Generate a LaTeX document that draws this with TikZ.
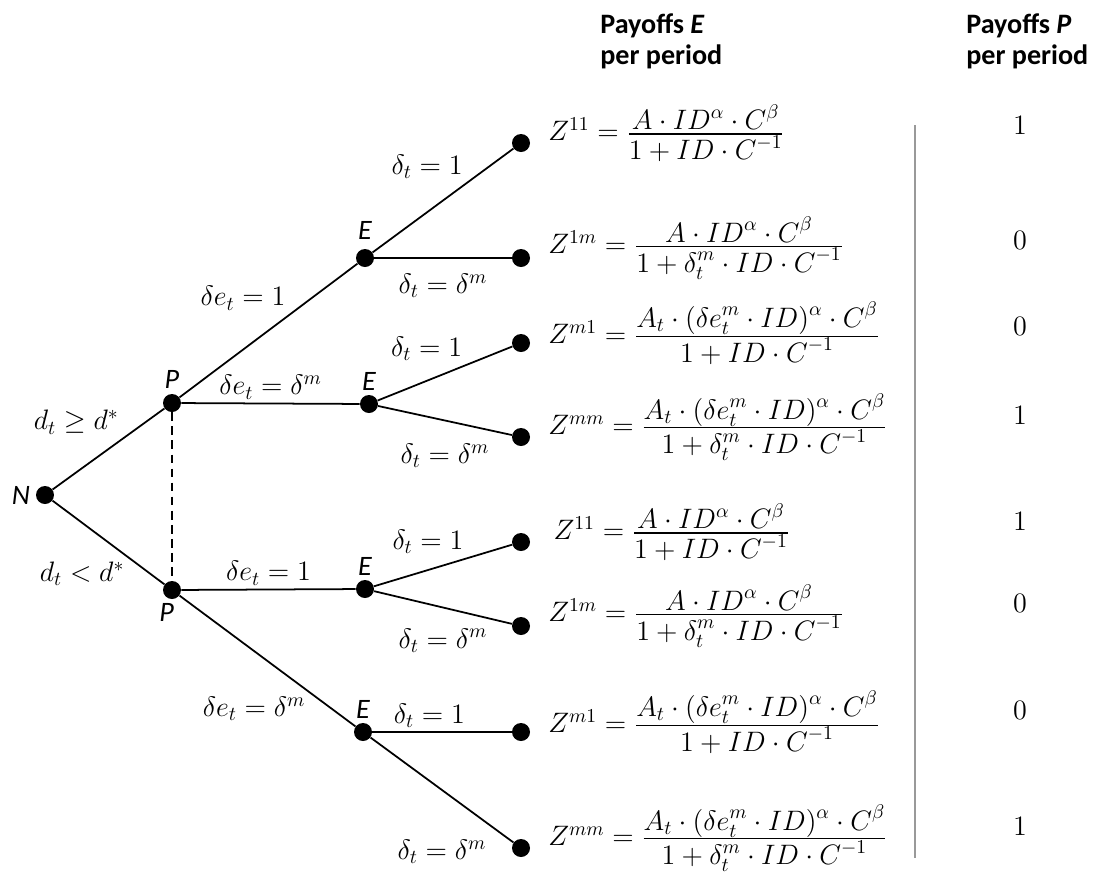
\RequirePackage{fix-cm}
\documentclass[tikz,border=0pt]{standalone}
\usepackage{amsmath,amssymb}
\usepackage[no-math]{fontspec}
\setmainfont{Carlito}
\usetikzlibrary{positioning}

\newcommand{\treesize}{\fontsize{16}{17.6}\selectfont}
\newcommand{\wfrac}[2]{\frac{\displaystyle #1}{\displaystyle #2}}

\begin{document}
\begin{tikzpicture}[
    x=0.02cm, y=-0.02cm,
    dot/.style={circle, fill=black, inner sep=0pt, minimum size=0.36cm},
    who/.style={font=\treesize\itshape, inner sep=2pt},
    lab/.style={font=\treesize, inner sep=2pt},
    pay/.style={font=\treesize, inner sep=2pt, anchor=west, yshift=5.5pt},
    head/.style={font=\treesize\bfseries, align=left, inner sep=0pt},
    line/.style={line width=1pt},
    infoset/.style={line width=0.8pt, dash pattern=on 5pt off 3pt}
  ]
  \useasboundingbox (0,0) rectangle (1096,873);

  % decision nodes
  \node [dot] (n) at (45,495) {};
  \node [dot] (p1) at (172,403) {};
  \node [dot] (p2) at (172,590) {};
  \node [dot] (e1) at (365,258) {};
  \node [dot] (e2) at (369,404) {};
  \node [dot] (e3) at (365,589) {};
  \node [dot] (e4) at (363,732) {};

  % end nodes
  \node [dot] (z1) at (521,143) {};
  \node [dot] (z2) at (521,258) {};
  \node [dot] (z3) at (521,343) {};
  \node [dot] (z4) at (521,437) {};
  \node [dot] (z5) at (521,542) {};
  \node [dot] (z6) at (521,626) {};
  \node [dot] (z7) at (521,732) {};
  \node [dot] (z8) at (521,848) {};

  % players
  \node [who, left=1pt of n] (wn) {N};
  \node [who, above=1pt of p1] (wp1) {P};
  \node [who, below=0pt of p2, xshift=-3pt] (wp2) {P};
  \node [who, above=3pt of e1] (we1) {E};
  \node [who, above=0pt of e2] (we2) {E};
  \node [who, above=0pt of e3] (we3) {E};
  \node [who, above=0pt of e4] (we4) {E};

  % branches
  \draw[line] (n) -- (p1) node[lab, pos=0.63, anchor=south east] {$d_t \geq d^*$};
  \draw[line] (n) -- (p2) node[lab, pos=0.68, anchor=north east] {$d_t < d^*$};
  \draw[infoset] (p1) -- (p2);
  \draw[line] (p1) -- (e1) node[lab, pos=0.62, anchor=south east] {$\delta e_t = 1$};
  \draw[line] (p1) -- (e2) node[lab, midway, above] {$\delta e_t = \delta^m$};
  \draw[line] (p2) -- (e3) node[lab, midway, above] {$\delta e_t = 1$};
  \draw[line] (p2) -- (e4) node[lab, pos=0.74, anchor=north east] {$\delta e_t = \delta^m$};
  \draw[line] (e1) -- (z1) node[lab, pos=0.67, anchor=south east] {$\delta_t = 1$};
  \draw[line] (e1) -- (z2) node[lab, midway, below=6.5pt] {$\delta_t = \delta^m$};
  \draw[line] (e2) -- (z3) node[lab, pos=0.66, anchor=south east] {$\delta_t = 1$};
  \draw[line] (e2) -- (z4) node[lab, midway, below=11pt] {$\delta_t = \delta^m$};
  \draw[line] (e3) -- (z5) node[lab, pos=0.68, anchor=south east] {$\delta_t = 1$};
  \draw[line] (e3) -- (z6) node[lab, midway, below=9.5pt] {$\delta_t = \delta^m$};
  \draw[line] (e4) -- (z7) node[lab, pos=0.41, above] {$\delta_t = 1$};
  \draw[line] (e4) -- (z8) node[lab, midway, below=26pt] {$\delta_t = \delta^m$};

  % payoffs of E
  \node [pay, right=8pt of z1] (f1) {$Z^{11} = \wfrac{A\cdot ID^{\alpha}\cdot C^{\beta}}{1+ID\cdot C^{-1}}$};
  \node [pay, right=8pt of z2] (f2) {$Z^{1m} = \wfrac{A\cdot ID^{\alpha}\cdot C^{\beta}}{1+\delta_t^m\cdot ID\cdot C^{-1}}$};
  \node [pay, right=8pt of z3] (f3) {$Z^{m1} = \wfrac{A_t\cdot(\delta e_t^m\cdot ID)^{\alpha}\cdot C^{\beta}}{1+ID\cdot C^{-1}}$};
  \node [pay, right=8pt of z4] (f4) {$Z^{mm} = \wfrac{A_t\cdot(\delta e_t^m\cdot ID)^{\alpha}\cdot C^{\beta}}{1+\delta_t^m\cdot ID\cdot C^{-1}}$};
  \node [pay, right=11pt of z5] (f5) {$Z^{11} = \wfrac{A\cdot ID^{\alpha}\cdot C^{\beta}}{1+ID\cdot C^{-1}}$};
  \node [pay, right=8pt of z6] (f6) {$Z^{1m} = \wfrac{A\cdot ID^{\alpha}\cdot C^{\beta}}{1+\delta_t^m\cdot ID\cdot C^{-1}}$};
  \node [pay, right=8pt of z7] (f7) {$Z^{m1} = \wfrac{A_t\cdot(\delta e_t^m\cdot ID)^{\alpha}\cdot C^{\beta}}{1+ID\cdot C^{-1}}$};
  \node [pay, right=8pt of z8] (f8) {$Z^{mm} = \wfrac{A_t\cdot(\delta e_t^m\cdot ID)^{\alpha}\cdot C^{\beta}}{1+\delta_t^m\cdot ID\cdot C^{-1}}$};

  % headers and payoffs of P
  \node [head, anchor=north west] (heade) at (600,13) {Payoffs \textit{E}\\per period};
  \node [head, anchor=north west] (headp) at (966,13) {Payoffs \textit{P}\\per period};
  \coordinate (rtop) at (915,125);
  \coordinate (rbot) at (915,858);
  \draw[gray!80, line width=0.8pt] (rtop) -- (rbot);
  \foreach \v/\y [count=\i] in {1/125, 0/240, 0/326, 1/415, 1/521, 0/603, 0/710, 1/826}
    \node [lab] (pp\i) at (1020,\y) {$\v$};
\end{tikzpicture}
\end{document}
